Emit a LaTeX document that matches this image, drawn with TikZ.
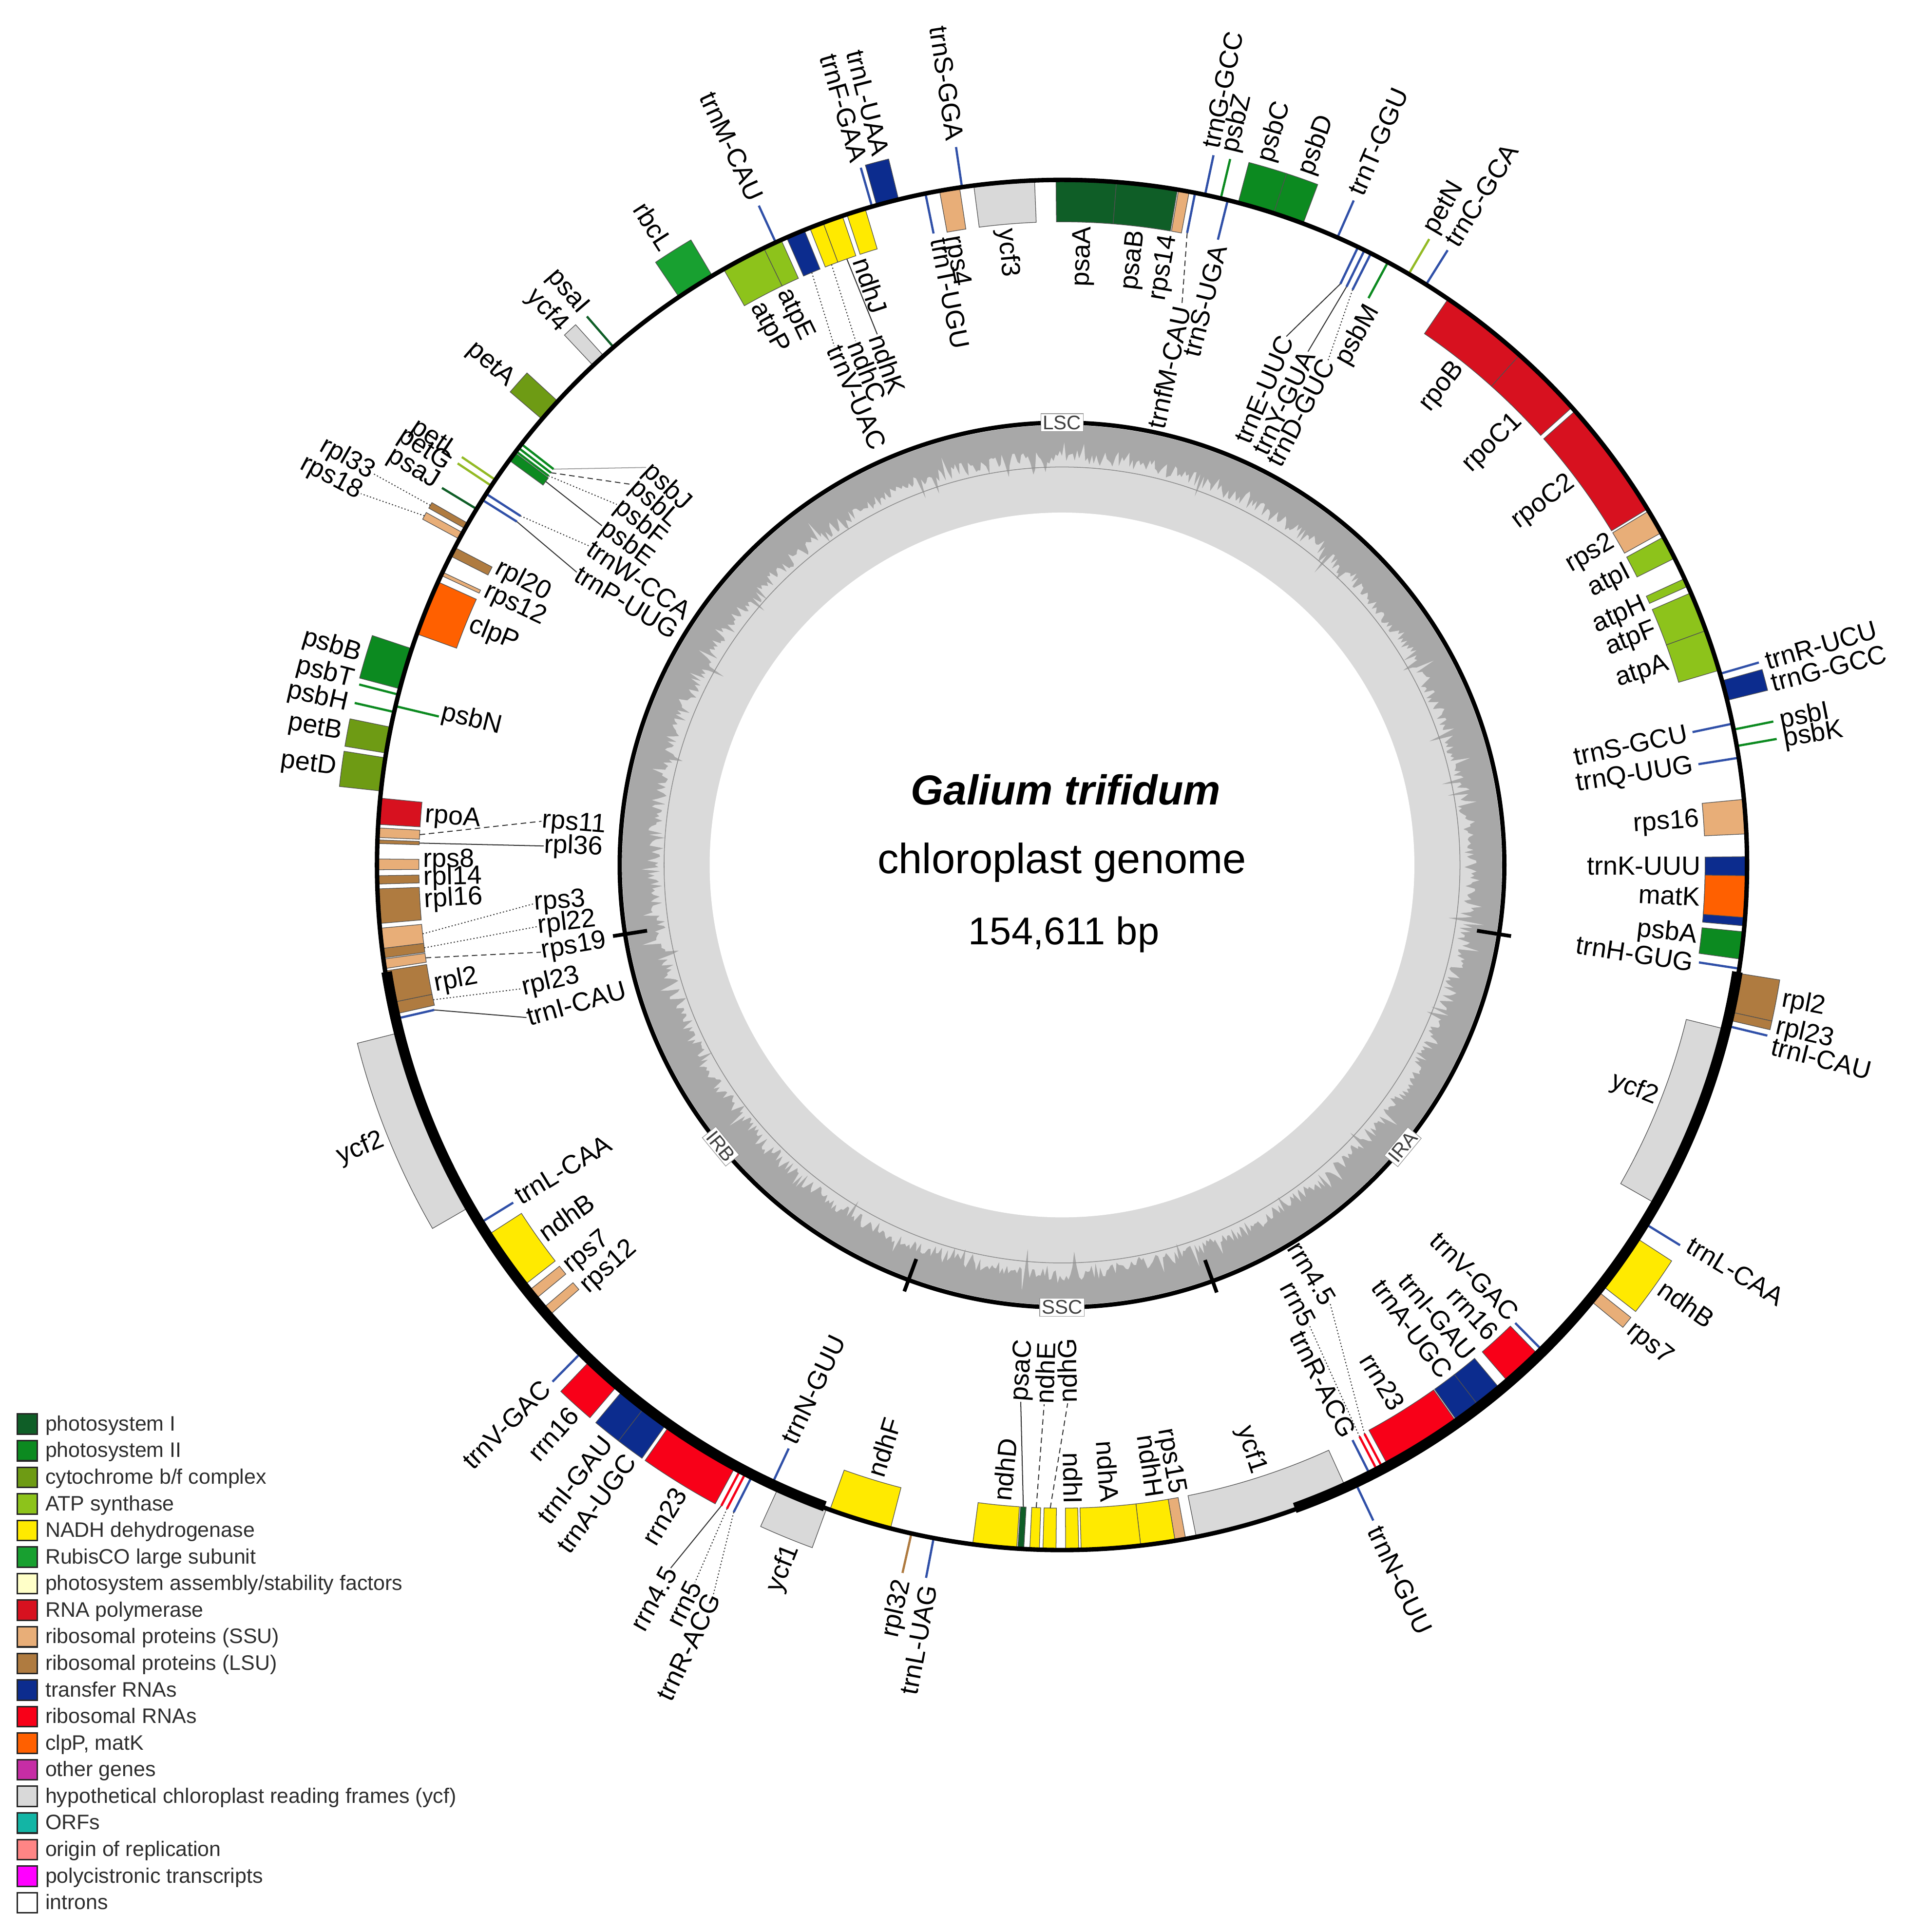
\documentclass[tikz,border=0pt]{standalone}
\usepackage{fontspec}
\setmainfont{Liberation Sans}
\definecolor{cpsI}{HTML}{0F5E27}
\definecolor{cpsII}{HTML}{0C8A20}
\definecolor{ccyt}{HTML}{6E9B14}
\definecolor{ccytl}{HTML}{93BA24}
\definecolor{catp}{HTML}{8DC31B}
\definecolor{cndh}{HTML}{FFEA00}
\definecolor{crbc}{HTML}{18A030}
\definecolor{cpaf}{HTML}{FFFFC8}
\definecolor{crpo}{HTML}{D7111F}
\definecolor{cssu}{HTML}{E8AE78}
\definecolor{clsu}{HTML}{AF7B40}
\definecolor{ctrn}{HTML}{0C2C8E}
\definecolor{ctrl}{HTML}{3050A8}
\definecolor{crrn}{HTML}{F80018}
\definecolor{cclp}{HTML}{FF6000}
\definecolor{coth}{HTML}{C62DA5}
\definecolor{cycf}{HTML}{D9D9D9}
\definecolor{corf}{HTML}{13B5A5}
\definecolor{cori}{HTML}{FF8585}
\definecolor{cpoly}{HTML}{FF00FF}
\definecolor{gcdark}{HTML}{A8A8A8}
\definecolor{gclight}{HTML}{DADADA}
\definecolor{boxedge}{HTML}{505050}
\definecolor{legtext}{HTML}{2E2E2E}
\tikzset{
  lab/.style={font=\fontsize{21.3}{25}\selectfont, inner sep=0.6pt, outer sep=0pt},
  ldr/.style={line width=0.8, black!80},
  lsol/.style={},
  ldash/.style={dash pattern=on 4.5pt off 3pt},
  ldot/.style={dash pattern=on 1pt off 1.7pt},
  rlab/.style={font=\fontsize{16}{18}\selectfont, text=black!75, fill=white, draw=black!40, line width=0.5, inner sep=1.6pt},
  legsq/.style={draw=black!85, line width=1.2, minimum size=16.4, inner sep=0pt},
  legtx/.style={font=\fontsize{17}{20}\selectfont, text=legtext, inner sep=0pt}
}
% gene box: start angle, end angle, second radius, colour
\newcommand{\gbox}[4]{%
  \filldraw[fill=#4, draw=boxedge, line width=0.5] ({90-(#1)}:556) arc[start angle={90-(#1)}, end angle={90-(#2)}, radius=556] -- ({90-(#2)}:#3) arc[start angle={90-(#2)}, end angle={90-(#1)}, radius=#3] -- cycle;}
% thin gene: angle, second radius, colour
\newcommand{\gln}[3]{\draw[line width=1.8, #3] ({90-(#1)}:556) -- ({90-(#1)}:#2);}
% label: name, angle, radius, text
\newcommand{\glab}[4]{%
  \pgfmathsetmacro{\gphi}{#2}%
  \pgfmathsetmacro{\grot}{(\gphi<180) ? (90-\gphi) : (270-\gphi)}%
  \pgfmathtruncatemacro{\gsel}{(((\gphi<180) && (#3>556)) || ((\gphi>=180) && (#3<556))) ? 1 : 0}%
  \ifnum\gsel=1 \def\ganc{west}\else\def\ganc{east}\fi
  \node[lab, rotate=\grot, anchor=\ganc] (#1) at ({90-\gphi}:#3) {#4};}
% leader: style, gene angle, gene tip radius, target
\newcommand{\gld}[4]{\draw[ldr, #1] ({90-(#2)}:#3) -- (#4);}
% legend item
\newcommand{\legit}[3]{%
  \pgfmathsetmacro{\ly}{-(1155.8+#1*21.58)}%
  \node[legsq, fill=#2] (sq#1) at (22.1,\ly) {};
  \node[legtx, anchor=base west] (lt#1) at (36.6,\ly-5.4) {#3};}

\begin{document}
\begin{tikzpicture}[x=1pt,y=1pt]
\useasboundingbox (0,0) rectangle (1547,-1568);
\fill[white] (0,0) rectangle (1547,-1568);
\pgfmathsetseed{4242}
\begin{scope}[shift={(862,-702)}]
% GC content plot
\fill[gcdark] (0,0) circle (357);
\fill[gclight] (90:332) \foreach \k [evaluate=\k as \rr using {331+6*rand-16*(rnd>0.93)*rnd+10*(rnd<0.05)}, evaluate=\k as \aa using {90-0.3*\k}] in {1,...,1200} { -- (\aa:\rr) } -- cycle;
\fill[white] (0,0) circle (286);
\draw[black!45, line width=0.6] (0,0) circle (323);
\draw[line width=3.5] (0,0) circle (359);
\foreach \a in {99.0,160.1,200.3,261.0} \draw[line width=3] ({90-\a}:341) -- ({90-\a}:369);
\node[rlab] (rLSC) at (90:359) {LSC};
\node[rlab] (rSSC) at (-90:359) {SSC};
\node[rlab, rotate=50.4] (rIRA) at ({90-129.6}:359) {IRA};
\node[rlab, rotate=-50.5] (rIRB) at ({90-230.5}:359) {IRB};

% ---------- gene boxes ----------
\gbox{-0.5}{4.56}{522}{cpsI}
\gbox{4.56}{9.7}{522}{cpsI}
\gbox{9.8}{10.7}{522}{cssu}
\gbox{14.9}{18.0}{590}{cpsII}
\gbox{18.0}{20.6}{590}{cpsII}
\gbox{34.3}{41.9}{522}{crpo}
\gbox{41.9}{48.1}{522}{crpo}
\gbox{48.5}{58.7}{522}{crpo}
\gbox{58.9}{61.0}{522}{cssu}
\gbox{61.4}{63.4}{522}{catp}
\gbox{65.3}{66.0}{522}{catp}
\gbox{66.6}{70.0}{522}{catp}
\gbox{70.0}{73.5}{522}{catp}
\gbox{74.4}{76.1}{590}{ctrn}
\gbox{84.5}{87.4}{522}{cssu}
\gbox{89.3}{95.1}{522}{ctrn}
\gbox{90.9}{94.4}{522}{cclp}
\gbox{95.6}{97.9}{522}{cpsII}
\gbox{99.1}{102.4}{590}{clsu}
\gbox{102.4}{103.1}{590}{clsu}
\gbox{103.9}{119.7}{522}{cycf}
\gbox{123.0}{127.9}{590}{cndh}
\gbox{128.5}{129.5}{590}{cssu}
\gbox{135.8}{139.2}{522}{crrn}
\gbox{140.1}{142.4}{522}{ctrn}
\gbox{142.4}{144.6}{522}{ctrn}
\gbox{144.7}{151.5}{522}{crrn}
\gbox{155.5}{168.7}{522}{cycf}
\gbox{169.6}{170.5}{522}{cssu}
\gbox{170.5}{173.4}{522}{cndh}
\gbox{173.4}{178.4}{522}{cndh}
\gbox{178.6}{179.7}{522}{cndh}
\gbox{180.5}{181.6}{522}{cndh}
\gbox{181.9}{182.7}{522}{cndh}
\gbox{183.2}{183.7}{522}{cpsI}
\gbox{183.8}{187.5}{522}{cndh}
\gbox{194.5}{199.8}{522}{cndh}
\gbox{200.1}{204.5}{590}{cycf}
\gbox{208.5}{215.0}{590}{crrn}
\gbox{215.3}{217.6}{590}{ctrn}
\gbox{217.6}{219.9}{590}{ctrn}
\gbox{220.5}{223.6}{590}{crrn}
\gbox{228.7}{229.5}{522}{cssu}
\gbox{230.5}{231.4}{522}{cssu}
\gbox{232.0}{237.2}{522}{cndh}
\gbox{240.0}{255.8}{590}{cycf}
\gbox{257.4}{258.4}{522}{clsu}
\gbox{258.4}{261.1}{522}{clsu}
\gbox{261.3}{262.1}{522}{cssu}
\gbox{262.2}{263.0}{522}{clsu}
\gbox{263.0}{264.7}{522}{cssu}
\gbox{265.1}{268.0}{522}{clsu}
\gbox{268.4}{269.1}{522}{clsu}
\gbox{269.6}{270.5}{522}{cssu}
\gbox{271.8}{272.1}{522}{clsu}
\gbox{272.3}{273.1}{522}{cssu}
\gbox{273.4}{275.6}{522}{crpo}
\gbox{276.2}{279.0}{590}{ccyt}
\gbox{279.4}{281.6}{590}{ccyt}
\gbox{284.9}{288.4}{590}{cpsII}
\gbox{289.7}{294.4}{522}{cclp}
\gbox{295.0}{295.3}{522}{cssu}
\gbox{296.8}{297.6}{522}{clsu}
\gbox{298.4}{299.0}{590}{cssu}
\gbox{299.4}{299.9}{590}{clsu}
\gbox{306.2}{307.0}{522}{cpsII}
\gbox{310.6}{312.6}{590}{ccyt}
\gbox{316.8}{318.0}{590}{cycf}
\gbox{326.0}{329.3}{590}{crbc}
\gbox{330.4}{334.2}{522}{catp}
\gbox{334.2}{335.8}{522}{catp}
\gbox{336.3}{337.9}{522}{ctrn}
\gbox{338.4}{339.6}{522}{cndh}
\gbox{339.6}{341.3}{522}{cndh}
\gbox{341.7}{343.3}{522}{cndh}
\gbox{344.3}{346.2}{590}{ctrn}
\gbox{349.7}{351.4}{522}{cssu}
\gbox{352.6}{357.7}{522}{cycf}

% ---------- thin genes ----------
\gln{11.2}{523}{ctrl}
\gln{12.05}{589}{ctrl}
\gln{13.4}{589}{cpsII}
\gln{14.0}{523}{ctrl}
\gln{23.7}{589}{ctrl}
\gln{25.6}{523}{ctrl}
\gln{26.2}{523}{ctrl}
\gln{26.8}{523}{ctrl}
\gln{28.4}{523}{cpsII}
\gln{30.4}{589}{ccytl}
\gln{32.1}{589}{ctrl}
\gln{73.8}{589}{ctrl}
\gln{78.1}{523}{ctrl}
\gln{78.6}{589}{cpsII}
\gln{80.0}{589}{cpsII}
\gln{81.0}{523}{ctrl}
\gln{98.7}{523}{ctrl}
\gln{103.6}{589}{ctrl}
\gln{121.6}{589}{ctrl}
\gln{135.3}{523}{ctrl}
\gln{152.0}{523}{crrn}
\gln{152.5}{523}{crrn}
\gln{153.2}{523}{ctrl}
\gln{154.6}{589}{ctrl}
\gln{190.8}{589}{ctrl}
\gln{192.7}{589}{clsu}
\gln{205.1}{523}{ctrl}
\gln{206.9}{589}{ctrl}
\gln{207.5}{589}{crrn}
\gln{208.0}{589}{crrn}
\gln{224.6}{589}{ctrl}
\gln{238.4}{523}{ctrl}
\gln{257.0}{523}{ctrl}
\gln{282.9}{589}{cpsII}
\gln{283.4}{520}{cpsII}
\gln{284.4}{589}{cpsII}
\gln{301.3}{589}{cpsI}
\gln{302.2}{523}{ctrl}
\gln{302.8}{523}{ctrl}
\gln{303.6}{589}{ccytl}
\gln{304.2}{589}{ccytl}
\gln{307.15}{523}{cpsII}
\gln{307.5}{523}{cpsII}
\gln{307.9}{523}{cpsII}
\gln{319.1}{589}{cpsI}
\gln{335.3}{589}{ctrl}
\gln{343.9}{589}{ctrl}
\gln{348.5}{523}{ctrl}
\gln{351.6}{589}{ctrl}

% ---------- genome circle ----------
\draw[line width=3.6] (0,0) circle (556);
\draw[line width=8.5] ({90-99.0}:555) arc[start angle={90-99.0}, end angle={90-160.1}, radius=555];
\draw[line width=8.5] ({90-200.3}:555) arc[start angle={90-200.3}, end angle={90-261.0}, radius=555];

% ---------- labels, right half ----------
\glab{Lpsaa}{2.0}{519}{psaA}
\glab{Lpsab}{6.8}{519}{psaB}
\glab{Lrps14}{9.7}{519}{rps14}
\glab{Ltrnfm}{12.1}{464}{trnfM-CAU}
\glab{Ltrngt}{11.7}{594}{trnG-GCC}
\glab{Lpsbz}{13.3}{594}{psbZ}
\glab{Ltrnsu}{14.2}{519}{trnS-UGA}
\glab{Lpsbc}{16.2}{594}{psbC}
\glab{Lpsbd}{19.5}{594}{psbD}
\glab{Ltrnt}{23.6}{594}{trnT-GGU}
\glab{Ltrne}{23.0}{466}{trnE-UUC}
\glab{Ltrny}{25.6}{462}{trnY-GUA}
\glab{Ltrnd}{27.8}{463}{trnD-GUC}
\glab{Lpsbm}{29.2}{519}{psbM}
\glab{Lpetn}{30.2}{594}{petN}
\glab{Ltrnc}{32.05}{594}{trnC-GCA}
\glab{Lrpob}{38.5}{519}{rpoB}
\glab{Lrpoc1}{45.6}{519}{rpoC1}
\glab{Lrpoc2}{53.0}{519}{rpoC2}
\glab{Lrps2}{59.5}{519}{rps2}
\glab{Latpi}{62.6}{519}{atpI}
\glab{Latph}{65.9}{519}{atpH}
\glab{Latpf}{68.4}{519}{atpF}
\glab{Latpa}{71.6}{519}{atpA}
\glab{Ltrnr}{73.85}{594}{trnR-UCU}
\glab{Ltrng}{75.6}{594}{trnG-GCC}
\glab{Ltrnsg}{78.06}{519}{trnS-GCU}
\glab{Lpsbi}{78.7}{594}{psbI}
\glab{Lpsbk}{80.2}{594}{psbK}
\glab{Ltrnq}{81.1}{519}{trnQ-UUG}
\glab{Lrps16}{86.0}{519}{rps16}
\glab{Ltrnk}{90.1}{519}{trnK-UUU}
\glab{Lmatk}{92.9}{519}{matK}
\glab{Lpsba}{96.4}{519}{psbA}
\glab{Ltrnh}{98.8}{519}{trnH-GUG}
\glab{Lrpl2a}{100.6}{594}{rpl2}
\glab{Lrpl23a}{102.8}{594}{rpl23}
\glab{Ltrnica}{104.3}{594}{trnI-CAU}
\glab{Lycf2a}{111.4}{519}{ycf2}
\glab{Ltrnla}{121.1}{594}{trnL-CAA}
\glab{Lndhba}{125.1}{594}{ndhB}
\glab{Lrps7a}{129.2}{594}{rps7}
\glab{Ltrnva}{134.9}{519}{trnV-GAC}
\glab{Lrrn16a}{137.5}{519}{rrn16}
\glab{Ltrnia}{140.3}{519}{trnI-GAU}
\glab{Ltrnaa}{142.96}{519}{trnA-UGC}
\glab{Lrrn23a}{148.2}{519}{rrn23}
\glab{Lrrn45a}{148.55}{417}{rrn4.5}
\glab{Lrrn5a}{151.75}{424}{rrn5}
\glab{Ltrnra}{153.3}{519}{trnR-ACG}
\glab{Ltrnna}{154.7}{594}{trnN-GUU}
\glab{Lycf1a}{162.1}{519}{ycf1}
\glab{Lrps15}{169.7}{519}{rps15}
\glab{Lndhh}{171.6}{519}{ndhH}
\glab{Lndha}{175.7}{519}{ndhA}
\glab{Lndhi}{179.0}{519}{ndhI}
% ---------- labels, left half ----------
\node[lab, rotate=90.6, anchor=west] (Lndhg) at ({90-179.4}:437) {ndhG};
\glab{Lndhe}{181.9}{438}{ndhE}
\glab{Lpsac}{184.4}{437}{psaC}
\glab{Lndhd}{185.4}{519}{ndhD}
\glab{Ltrnlu}{190.5}{594}{trnL-UAG}
\glab{Lrpl32}{192.5}{594}{rpl32}
\glab{Lndhf}{197.0}{519}{ndhF}
\glab{Lycf1b}{201.6}{594}{ycf1}
\glab{Ltrnnb}{205.4}{519}{trnN-GUU}
\glab{Ltrnrb}{205.55}{656}{trnR-ACG}
\glab{Lrrn5b}{207.1}{654}{rrn5}
\glab{Lrrn45b}{209.1}{653}{rrn4.5}
\glab{Lrrn23b}{211.4}{594}{rrn23}
\glab{Ltrnab}{216.1}{594}{trnA-UGC}
\glab{Ltrnib}{218.4}{594}{trnI-GAU}
\glab{Lrrn16b}{221.8}{594}{rrn16}
\glab{Ltrnvb}{224.8}{594}{trnV-GAC}
\glab{Lrps12b}{228.4}{519}{rps12}
\glab{Lrps7b}{230.8}{519}{rps7}
\glab{Lndhbb}{234.6}{519}{ndhB}
\glab{Ltrnlb}{238.6}{519}{trnL-CAA}
\glab{Lycf2b}{248.0}{594}{ycf2}
\glab{Ltrnicb}{254.1}{452}{trnI-CAU}
\glab{Lrpl23b}{257.1}{450}{rpl23}
\glab{Lrpl2b}{259.2}{519}{rpl2}
\glab{Lrps19}{260.5}{429}{rps19}
\glab{Lrpl22}{263.3}{429}{rpl22}
\glab{Lrps3}{265.8}{430}{rps3}
\glab{Lrpl16}{266.8}{519}{rpl16}
\glab{Lrpl14}{268.8}{519}{rpl14}
\glab{Lrps8}{270.4}{519}{rps8}
\glab{Lrpl36}{272.1}{421}{rpl36}
\glab{Lrps11}{274.8}{424}{rps11}
\glab{Lrpoa}{274.4}{519}{rpoA}
\glab{Lpetd}{277.6}{594}{petD}
\glab{Lpetb}{280.4}{594}{petB}
\glab{Lpsbh}{282.7}{594}{psbH}
\glab{Lpsbn}{283.8}{519}{psbN}
\glab{Lpsbt}{284.6}{594}{psbT}
\glab{Lpsbb}{286.7}{594}{psbB}
\glab{Lclpp}{292.1}{519}{clpP}
\glab{Lrps12a}{295.4}{519}{rps12}
\glab{Lrpl20}{297.8}{519}{rpl20}
\glab{Lrps18}{297.9}{644}{rps18}
\glab{Lrpl33}{299.6}{643}{rpl33}
\glab{Lpsaj}{301.4}{594}{psaJ}
\glab{Ltrnp}{301.1}{460}{trnP-UUG}
\glab{Ltrnw}{304.0}{463}{trnW-CCA}
\glab{Lpetg}{303.05}{594}{petG}
\glab{Lpetl}{304.1}{594}{petL}
\glab{Lpsbe}{306.4}{464}{psbE}
\glab{Lpsbf}{309.0}{465}{psbF}
\glab{Lpsbl}{311.5}{466}{psbL}
\glab{Lpsbj}{313.7}{467}{psbJ}
\glab{Lpeta}{311.2}{594}{petA}
\glab{Lycf4}{317.1}{594}{ycf4}
\glab{Lpsai}{319.2}{594}{psaI}
\glab{Lrbcl}{327.4}{594}{rbcL}
\glab{Latpb}{331.4}{519}{atpP}
\glab{Latpe}{334.1}{519}{atpE}
\glab{Ltrnm}{335.3}{594}{trnM-CAU}
\glab{Ltrnvu}{336.3}{460}{trnV-UAC}
\glab{Lndhc}{338.5}{457}{ndhC}
\glab{Lndhk}{340.8}{456}{ndhK}
\glab{Lndhj}{341.7}{519}{ndhJ}
\glab{Ltrnf}{343.9}{594}{trnF-GAA}
\glab{Ltrnlu2}{345.7}{594}{trnL-UAA}
\glab{Ltrntu}{348.9}{519}{trnT-UGU}
\glab{Lrps4}{350.1}{519}{rps4}
\glab{Ltrnsg2}{351.6}{594}{trnS-GGA}
\glab{Lycf3}{354.9}{519}{ycf3}

% ---------- leader lines ----------
\gld{ldash}{11.2}{523}{Ltrnfm.east}
\gld{lsol}{25.6}{523}{Ltrne.east}
\gld{lsol}{26.2}{523}{Ltrny.east}
\gld{ldot}{26.8}{523}{Ltrnd.east}
\gld{ldot}{152.0}{523}{Lrrn45a.east}
\gld{ldot}{152.5}{523}{Lrrn5a.east}
\gld{ldash}{181.05}{522}{Lndhg.west}
\gld{ldash}{182.3}{522}{Lndhe.west}
\gld{lsol}{183.45}{522}{Lpsac.west}
\gld{ldot}{206.9}{589}{Ltrnrb.east}
\gld{ldot}{207.5}{589}{Lrrn5b.east}
\gld{lsol}{208.0}{589}{Lrrn45b.east}
\gld{lsol}{257.0}{523}{Ltrnicb.west}
\gld{ldot}{257.9}{522}{Lrpl23b.west}
\gld{ldash}{261.7}{522}{Lrps19.west}
\gld{ldot}{262.6}{522}{Lrpl22.west}
\gld{ldot}{263.85}{522}{Lrps3.west}
\gld{lsol}{271.95}{522}{Lrpl36.west}
\gld{ldash}{272.7}{522}{Lrps11.west}
\gld{ldot}{298.7}{590}{Lrps18.east}
\gld{ldot}{299.65}{590}{Lrpl33.east}
\gld{lsol}{302.2}{523}{Ltrnp.west}
\gld{ldot}{302.8}{523}{Ltrnw.west}
\gld{lsol}{306.6}{522}{Lpsbe.west}
\gld{ldot}{307.15}{523}{Lpsbf.west}
\gld{ldash}{307.5}{523}{Lpsbl.west}
\gld{lsol, black!35}{307.9}{523}{Lpsbj.west}
\gld{ldot}{337.1}{522}{Ltrnvu.west}
\gld{ldot}{339.0}{522}{Lndhc.west}
\gld{lsol}{340.45}{522}{Lndhk.west}
\end{scope}

% ---------- centre title ----------
\node[font=\fontsize{34}{40}\selectfont\bfseries\itshape, anchor=base, inner sep=0pt] (title) at (865,-653) {Galium trifidum};
\node[font=\fontsize{34.3}{40}\selectfont, anchor=base, inner sep=0pt] (subtitle) at (862,-708.7) {chloroplast genome};
\node[font=\fontsize{31.4}{36}\selectfont, anchor=base, inner sep=0pt] (size) at (863.5,-766.5) {154,611 bp};

% ---------- legend ----------
\legit{0}{cpsI}{photosystem I}
\legit{1}{cpsII}{photosystem II}
\legit{2}{ccyt}{cytochrome b/f complex}
\legit{3}{catp}{ATP synthase}
\legit{4}{cndh}{NADH dehydrogenase}
\legit{5}{crbc}{RubisCO large subunit}
\legit{6}{cpaf}{photosystem assembly/stability factors}
\legit{7}{crpo}{RNA polymerase}
\legit{8}{cssu}{ribosomal proteins (SSU)}
\legit{9}{clsu}{ribosomal proteins (LSU)}
\legit{10}{ctrn}{transfer RNAs}
\legit{11}{crrn}{ribosomal RNAs}
\legit{12}{cclp}{clpP, matK}
\legit{13}{coth}{other genes}
\legit{14}{cycf}{hypothetical chloroplast reading frames (ycf)}
\legit{15}{corf}{ORFs}
\legit{16}{cori}{origin of replication}
\legit{17}{cpoly}{polycistronic transcripts}
\legit{18}{white}{introns}
\end{tikzpicture}
\end{document}
